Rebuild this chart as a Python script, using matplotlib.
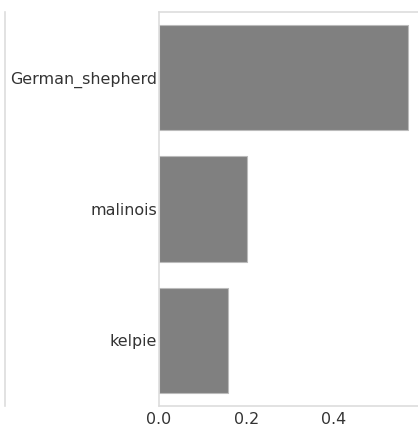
import matplotlib
matplotlib.use("Agg")
import matplotlib.pyplot as plt
from matplotlib.lines import Line2D

# top predicted breeds and their probabilities
breeds = ["German_shepherd", "malinois", "kelpie"]
probs = [0.570, 0.201, 0.159]

W, H = 418, 426
fig = plt.figure(figsize=(W / 100, H / 100), dpi=100)

# axes runs past the right edge of the canvas (x range 0..0.6)
left, right_px = 159, 160 + 0.6 * 435
top, bottom = 12, 406
ax = fig.add_axes([left / W, 1 - bottom / H, (right_px - left) / W, (bottom - top) / H])

ax.barh(range(len(breeds)), probs, height=0.8, color="gray",
        edgecolor="#bbbbbb", linewidth=0.8)
ax.set_yticks(range(len(breeds)))
ax.set_yticklabels(breeds)
ax.set_ylim(len(breeds) - 0.5, -0.5)
ax.set_xlim(0, 0.6)
ax.set_xticks([0.0, 0.2, 0.4])

for s in ax.spines.values():
    s.set_color("#dddddd")
    s.set_linewidth(1.2)
ax.tick_params(axis="y", length=0, labelsize=11.4, labelcolor="#333333", pad=1.5)
ax.tick_params(axis="x", length=0, labelsize=11.4, labelcolor="#333333", pad=4)

# edge of the neighbouring panel on the left
fig.add_artist(Line2D([5 / W, 5 / W], [1 - bottom / H, 1 - top / H],
                      transform=fig.transFigure, color="#dddddd", lw=1.2))

fig.savefig("out.png", dpi=100)
